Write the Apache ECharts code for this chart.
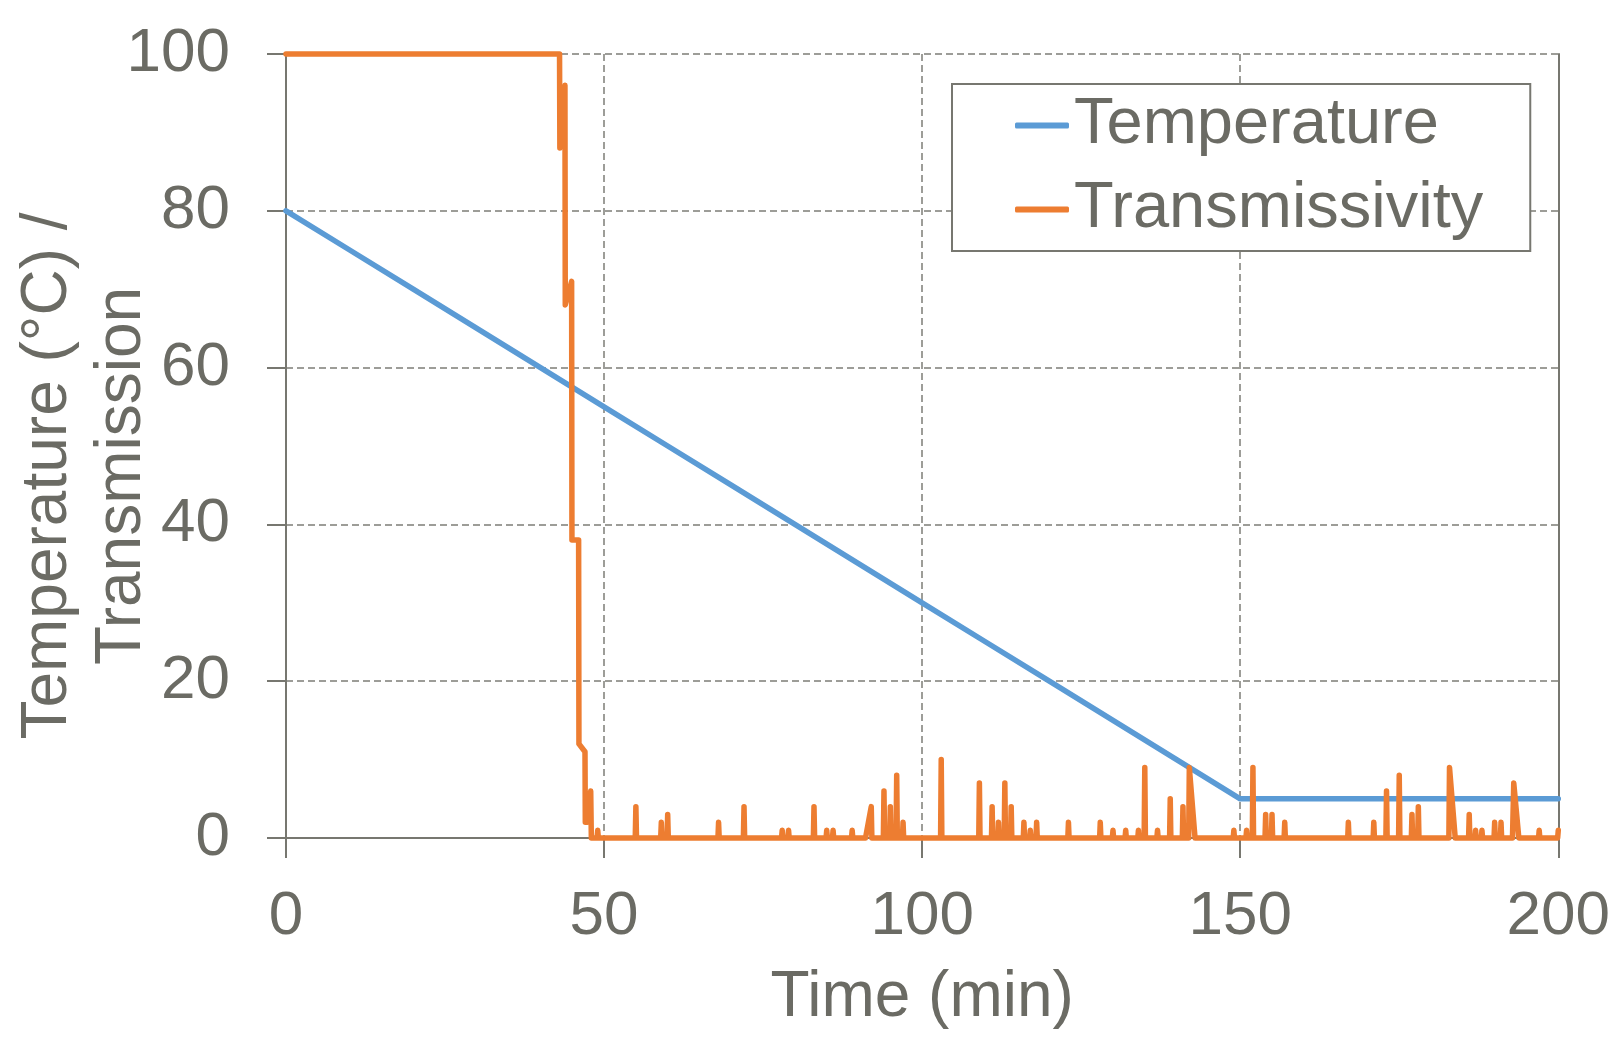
<!DOCTYPE html>
<html>
<head>
<meta charset="utf-8">
<script src="https://cdn.jsdelivr.net/npm/echarts@6/dist/echarts.min.js"></script>
<style>
  html, body { margin: 0; padding: 0; background: #ffffff; }
  #chart { width: 1613px; height: 1038px; }
</style>
</head>
<body>
<div id="chart"></div>
<script>
// ---- data ----
const seriesNames = ['Temperature', 'Transmissivity'];

// Temperature (°C) vs time (min)
const tempTime  = [0, 10, 20, 30, 40, 50, 60, 70, 80, 90, 100, 110, 120, 130, 140, 150, 160, 170, 180, 190, 200];
const tempValue = [80, 75, 70, 65, 60, 55, 50, 45, 40, 35, 30, 25, 20, 15, 10, 5, 5, 5, 5, 5, 5];

// Transmissivity vs time (min): vertices of the trace
const transTime = [
  0, 43.0, 43.05, 43.85, 43.9, 44.9, 44.95, 46.0, 46.05, 47.0, 47.05, 47.4, 47.9, 48.0,
  48.9, 49.0, 49.1,
  54.9, 55, 55.1,
  58.9, 59, 59.1,
  59.9, 60, 60.1,
  67.9, 68, 68.1,
  71.9, 72, 72.1,
  77.9, 78, 78.1,
  78.9, 79, 79.1,
  82.9, 83, 83.1,
  84.9, 85, 85.1,
  85.9, 86, 86.1,
  88.9, 89, 89.1,
  91.1, 92, 92.1,
  93.9, 94, 94.1,
  94.9, 95, 95.1,
  95.9, 96, 96.1,
  96.9, 97, 97.1,
  102.9, 103, 103.1,
  108.9, 109, 109.1,
  110.9, 111, 111.1,
  111.9, 112, 112.1,
  112.9, 113, 113.1,
  113.9, 114, 114.1,
  115.9, 116, 116.1,
  116.9, 117, 117.1,
  117.9, 118, 118.1,
  122.9, 123, 123.1,
  127.9, 128, 128.1,
  129.9, 130, 130.1,
  131.9, 132, 132.1,
  133.9, 134, 134.1,
  134.9, 135, 135.1,
  136.9, 137, 137.1,
  138.9, 139, 139.1,
  140.9, 141, 141.1,
  141.9, 142, 142.9,
  148.9, 149, 149.1,
  150.9, 151, 151.1,
  151.9, 152, 152.1,
  153.9, 154, 154.1,
  154.9, 155, 155.1,
  156.9, 157, 157.1,
  166.9, 167, 167.1,
  170.9, 171, 171.1,
  172.9, 173, 173.1,
  174.9, 175, 175.1,
  176.9, 177, 177.1,
  177.9, 178, 178.1,
  182.8, 182.9, 183.8,
  185.9, 186, 186.1,
  186.9, 187, 187.1,
  187.9, 188, 188.1,
  189.9, 190, 190.1,
  190.9, 191, 191.1,
  192.8, 193, 193.8,
  196.9, 197, 197.1,
  199.9, 200
];
const transValue = [
  100, 100, 88, 96, 68, 71, 38, 38, 12, 11, 2, 2, 6, 0,
  0, 1, 0,
  0, 4, 0,
  0, 2, 0,
  0, 3, 0,
  0, 2, 0,
  0, 4, 0,
  0, 1, 0,
  0, 1, 0,
  0, 4, 0,
  0, 1, 0,
  0, 1, 0,
  0, 1, 0,
  0, 4, 0,
  0, 6, 0,
  0, 4, 0,
  0, 8, 0,
  0, 2, 0,
  0, 10, 0,
  0, 7, 0,
  0, 4, 0,
  0, 2, 0,
  0, 7, 0,
  0, 4, 0,
  0, 2, 0,
  0, 1, 0,
  0, 2, 0,
  0, 2, 0,
  0, 2, 0,
  0, 1, 0,
  0, 1, 0,
  0, 1, 0,
  0, 9, 0,
  0, 1, 0,
  0, 5, 0,
  0, 4, 0,
  0, 9, 0,
  0, 1, 0,
  0, 1, 0,
  0, 9, 0,
  0, 3, 0,
  0, 3, 0,
  0, 2, 0,
  0, 2, 0,
  0, 2, 0,
  0, 6, 0,
  0, 8, 0,
  0, 3, 0,
  0, 4, 0,
  0, 9, 0,
  0, 3, 0,
  0, 1, 0,
  0, 1, 0,
  0, 2, 0,
  0, 2, 0,
  0, 7, 0,
  0, 1, 0,
  0, 1
];

const xTicks = { min: 0, max: 200, interval: 50 };
const yTicks = { min: 0, max: 100, interval: 20 };

const xTitle = 'Time (min)';
const yTitle = 'Temperature (°C) /\nTransmission';

// ---- styling ----
const FONT = '"Liberation Sans", Arial, sans-serif';
const TEXT = '#6b6b64';
const AXIS = '#777770';
const GRID = '#7d7d77';

const tempData = tempTime.map((t, i) => [t, tempValue[i]]);
const transData = transTime.map((t, i) => [t, transValue[i]]);

const chart = echarts.init(document.getElementById('chart'), null, { renderer: 'canvas' });

chart.setOption({
  animation: false,
  backgroundColor: '#ffffff',
  textStyle: { fontFamily: FONT },
  grid: { left: 286, right: 46, top: 54, bottom: 200, containLabel: false },
  xAxis: {
    type: 'value',
    min: xTicks.min, max: xTicks.max, interval: xTicks.interval,
    name: xTitle,
    nameLocation: 'middle',
    nameGap: 128,
    nameTextStyle: { fontFamily: FONT, fontSize: 64, color: TEXT, lineHeight: 64 },
    axisLine: { show: true, onZero: false, lineStyle: { color: AXIS, width: 2 } },
    axisTick: { show: true, length: 20, lineStyle: { color: AXIS, width: 2 } },
    axisLabel: { fontFamily: FONT, fontSize: 62, color: TEXT, margin: 48, lineHeight: 62 },
    splitLine: { show: true, lineStyle: { color: GRID, width: 1.5, type: [7, 4] } }
  },
  yAxis: [{
    type: 'value',
    min: yTicks.min, max: yTicks.max, interval: yTicks.interval,
    axisLine: { show: true, lineStyle: { color: AXIS, width: 2 } },
    axisTick: { show: true, length: 19, lineStyle: { color: AXIS, width: 2 } },
    axisLabel: { fontFamily: FONT, fontSize: 62, color: TEXT, margin: 56 },
    splitLine: { show: true, lineStyle: { color: GRID, width: 1.5, type: [7, 4] } }
  }, {
    type: 'value',
    position: 'right',
    min: yTicks.min, max: yTicks.max, interval: yTicks.interval,
    axisLine: { show: true, lineStyle: { color: AXIS, width: 2 } },
    axisTick: { show: false },
    axisLabel: { show: false },
    splitLine: { show: false }
  }],
  legend: {
    orient: 'vertical',
    left: 952,
    top: 84,
    padding: [9, 47, 9, 63],
    itemGap: 19,
    itemWidth: 54,
    itemHeight: 6,
    icon: 'roundRect',
    backgroundColor: '#ffffff',
    borderColor: AXIS,
    borderWidth: 2,
    borderRadius: 0,
    textStyle: { fontFamily: FONT, fontSize: 65, color: TEXT, lineHeight: 65 },
    data: seriesNames
  },
  graphic: [{
    type: 'text',
    x: 85,
    y: 476,
    rotation: Math.PI / 2,
    style: {
      text: yTitle,
      font: '64px ' + FONT,
      fill: TEXT,
      align: 'center',
      verticalAlign: 'middle',
      lineHeight: 74
    }
  }],
  series: [{
    name: seriesNames[0],
    type: 'line',
    data: tempData,
    symbol: 'none',
    clip: false,
    color: '#5B9BD5',
    lineStyle: { color: '#5B9BD5', width: 5.5, cap: 'round', join: 'round' },
    z: 2
  }, {
    name: seriesNames[1],
    type: 'line',
    data: transData,
    symbol: 'none',
    clip: false,
    sampling: null,
    color: '#ED7D31',
    lineStyle: { color: '#ED7D31', width: 5.5, cap: 'round', join: 'round' },
    z: 3
  }]
});
</script>
</body>
</html>
